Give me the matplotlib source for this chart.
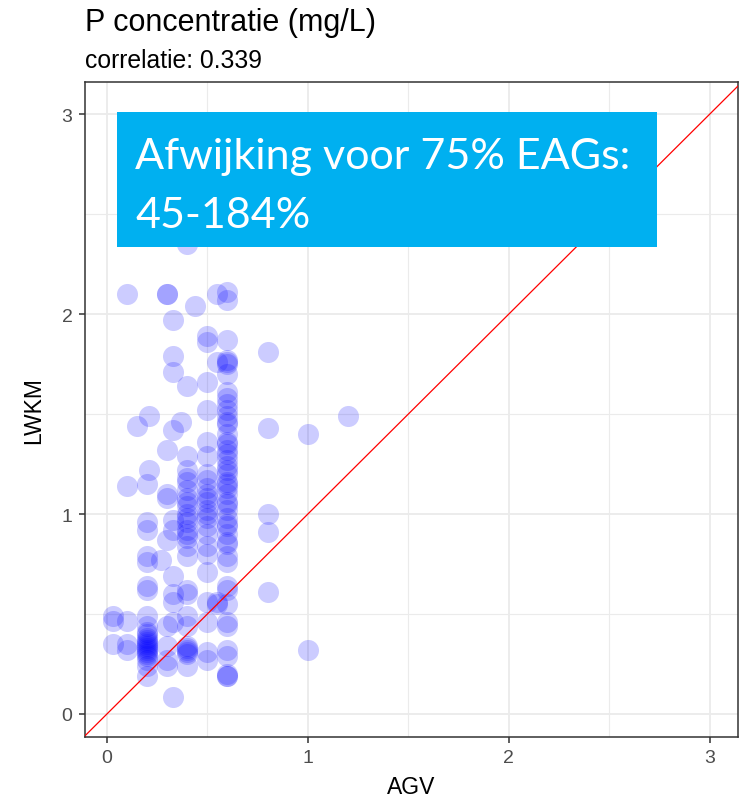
import matplotlib.pyplot as plt
from matplotlib.patches import Rectangle

# AGV (x) value for each column of points, with the LWKM (y) values in that column
col_x = [0.03, 0.1, 0.15, 0.2, 0.21, 0.27, 0.3, 0.33, 0.37, 0.4, 0.44, 0.5, 0.55, 0.6, 0.8, 1.0, 1.2]
col_y = [
    [0.49, 0.465, 0.35],
    [2.10, 1.14, 0.465, 0.35, 0.32],
    [1.44],
    [1.15, 0.96, 0.92, 0.79, 0.76, 0.64, 0.62, 0.49, 0.44, 0.41, 0.40, 0.38,
     0.37, 0.36, 0.35, 0.34, 0.33, 0.32, 0.31, 0.30, 0.29, 0.27, 0.24, 0.19],
    [1.49, 1.22],
    [0.77],
    [2.10, 2.10, 1.32, 1.10, 1.08, 0.87, 0.44, 0.34, 0.27, 0.24],
    [1.97, 1.79, 1.71, 1.42, 0.97, 0.92, 0.69, 0.60, 0.56, 0.46, 0.085],
    [1.46],
    [2.35, 1.64, 1.29, 1.22, 1.18, 1.16, 1.12, 1.08, 1.06, 1.04, 1.00, 0.98,
     0.96, 0.92, 0.90, 0.88, 0.84, 0.79, 0.62, 0.60, 0.49, 0.44, 0.34, 0.33,
     0.32, 0.31, 0.30, 0.24],
    [2.04],
    [1.89, 1.86, 1.66, 1.52, 1.36, 1.29, 1.20, 1.17, 1.13, 1.10, 1.08, 1.06,
     1.02, 1.00, 0.98, 0.94, 0.90, 0.84, 0.80, 0.71, 0.56, 0.46, 0.31, 0.27],
    [2.10, 1.76, 0.56, 0.55],
    [2.11, 2.07, 1.87, 1.77, 1.76, 1.75, 1.70, 1.61, 1.58, 1.55, 1.52, 1.49,
     1.46, 1.45, 1.40, 1.36, 1.35, 1.32, 1.30, 1.27, 1.24, 1.22, 1.20, 1.16,
     1.15, 1.13, 1.10, 1.06, 1.05, 1.02, 0.98, 0.95, 0.94, 0.90, 0.86, 0.85,
     0.79, 0.76, 0.64, 0.62, 0.55, 0.46, 0.44, 0.32, 0.29, 0.20, 0.19, 0.19],
    [1.81, 1.43, 1.00, 0.91, 0.61],
    [1.40, 0.32],
    [1.49],
]
ticks = [0, 1, 2, 3]

title = "P concentratie (mg/L)"
subtitle = "correlatie: 0.339"
box_lines = ["Afwijking voor 75% EAGs:", "45-184%"]

agv = []
lwkm = []
for xv, ys in zip(col_x, col_y):
    for yv in ys:
        agv.append(xv)
        lwkm.append(yv)

plt.rcParams['font.family'] = ['Liberation Sans', 'DejaVu Sans']

W, H = 753, 804
fig = plt.figure(figsize=(W / 100, H / 100), dpi=100)
ax = fig.add_axes([85 / W, 1 - 738 / H, (738 - 85) / W, (738 - 83) / H])

ax.set_xlim(-0.109, 3.14)
ax.set_ylim(-0.115, 3.16)

grid_col = '#EBEBEB'
for v in ticks:
    ax.axvline(v, color=grid_col, lw=1.3, zorder=0)
    ax.axhline(v, color=grid_col, lw=1.3, zorder=0)
for v in [0.5, 1.5, 2.5]:
    ax.axvline(v, color=grid_col, lw=0.8, zorder=0)
    ax.axhline(v, color=grid_col, lw=0.8, zorder=0)

ax.scatter(agv, lwkm, s=230, color='#0000FF', alpha=0.2, linewidths=0, zorder=2)
ax.axline((0, 0), slope=1, color='red', lw=0.9, zorder=3)

ax.set_xticks(ticks)
ax.set_yticks(ticks)
ax.tick_params(colors='#333333', labelcolor='#4D4D4D', labelsize=14, length=4, width=1.1, pad=5)
for s in ax.spines.values():
    s.set_color('#333333')
    s.set_linewidth(1.1)

ax.set_xlabel("AGV", fontsize=16.5, labelpad=6)
ax.set_ylabel("LWKM", fontsize=16.5, labelpad=12)

fig.text(85 / W, 1 - 31 / H, title, fontsize=22, ha='left', va='baseline')
fig.text(85 / W, 1 - 68 / H, subtitle, fontsize=17.8, ha='left', va='baseline')

# blue annotation box laid over the plot
fig.patches.append(Rectangle((117 / W, 1 - 248 / H), (657 - 117) / W, (248 - 113) / H,
                             transform=fig.transFigure, facecolor='#00B0F0',
                             edgecolor='none', zorder=10))
fig.text(135 / W, 1 - 169 / H, box_lines[0], fontsize=31, color='white',
         family='Lato', ha='left', va='baseline', zorder=11)
fig.text(135 / W, 1 - 228 / H, box_lines[1], fontsize=31, color='white',
         family='Lato', ha='left', va='baseline', zorder=11)

fig.savefig("out.png", dpi=100)
